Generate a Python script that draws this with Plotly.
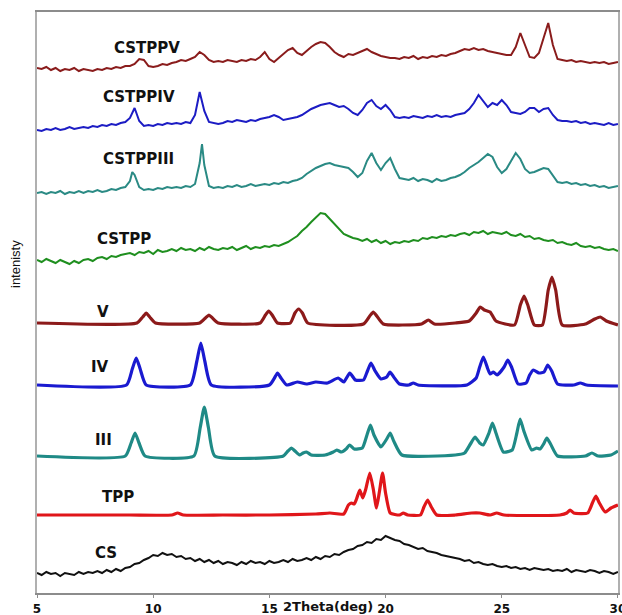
import numpy as np
import plotly.graph_objects as go

# common 2-theta sampling for the noisy (composite / amorphous) scans
theta_grid = np.round(np.arange(5.0, 30.0001, 0.2), 1)

# ---- noisy scans, intensity (a.u., stacked) on theta_grid ----
cs_vals = [
    20, 18, 21, 19, 20, 17, 20, 19, 18, 21,
    19, 21, 20, 22, 20, 23, 21, 24, 22, 25,
    26, 29, 30, 33, 35, 38, 37, 40, 38, 39,
    36, 37, 34, 35, 32, 34, 31, 33, 30, 32,
    29, 31, 30, 28, 31, 29, 32, 30, 31, 29,
    32, 30, 31, 33, 31, 34, 32, 33, 35, 33,
    36, 34, 37, 36, 39, 38, 41, 43, 44, 47,
    48, 51, 50, 54, 53, 57, 55, 53, 52, 49,
    48, 46, 44, 45, 42, 41, 40, 38, 37, 36,
    35, 34, 32, 33, 30, 31, 29, 28, 29, 27,
    26, 27, 25, 26, 24, 25, 23, 25, 24, 23,
    24, 22, 23, 22, 24, 21, 23, 22, 21, 23,
    22, 20, 22, 21, 19, 21,
]
cstpp_vals = [
    333, 331, 334, 332, 330, 333, 331, 329, 332, 330,
    333, 334, 332, 335, 336, 334, 337, 336, 338, 339,
    340, 338, 341, 340, 342, 339, 343, 341, 342, 344,
    342, 345, 343, 344, 342, 345, 343, 346, 344, 343,
    345, 344, 346, 343, 345, 347, 344, 346, 345, 347,
    346, 348, 347, 349, 351, 354, 357, 362, 366, 371,
    376, 380, 379, 374, 368, 364, 359, 357, 355, 354,
    352, 354, 351, 353, 350, 352, 349, 351, 350, 352,
    351, 353, 352, 355, 354, 356, 355, 357, 356, 358,
    357, 359, 360, 358, 361, 360, 362, 359, 361, 360,
    359, 361, 358, 357, 359, 356, 357, 354, 355, 353,
    352, 353, 350, 351, 349, 348, 350, 347, 346, 347,
    345, 346, 344, 343, 344, 342,
]
cstpp3_vals = [
    400, 401, 399, 401, 400, 402, 399, 401, 400, 402,
    400, 402, 401, 403, 401, 402, 404, 403, 405, 406,
    412, 418, 406, 403, 404, 403, 405, 404, 406, 405,
    406, 405, 407, 406, 409, 430, 428, 407, 405, 406,
    405, 407, 406, 408, 406, 407, 409, 407, 408, 409,
    408, 410, 409, 411, 410, 412, 413, 415, 419, 422,
    425, 427, 429, 430, 428, 427, 426, 425, 421, 416,
    420, 432, 440, 430, 423, 430, 435, 424, 415, 414,
    413, 415, 412, 414, 413, 411, 414, 412, 413, 415,
    416, 418, 421, 425, 428, 431, 435, 439, 436, 426,
    420, 424, 432, 440, 434, 424, 420, 421, 423, 425,
    424, 417, 411, 410, 411, 409, 410, 408, 409, 407,
    408, 406, 407, 405, 406, 407,
]
cstpp3_peak_x = [9.1, 12.1]
cstpp3_peak_y = [421, 449]
cstpp4_vals = [
    463, 462, 464, 463, 465, 463, 464, 466, 464, 465,
    466, 465, 467, 466, 468, 467, 469, 468, 470, 471,
    475, 485, 472, 467, 468, 467, 469, 468, 470, 469,
    470, 469, 471, 470, 478, 501, 482, 471, 470, 469,
    470, 472, 471, 473, 472, 471, 473, 472, 474, 475,
    476, 478, 476, 473, 474, 475, 476, 478, 481, 484,
    486, 488, 489, 490, 488, 486, 487, 484, 480, 478,
    483, 490, 493, 487, 484, 488, 483, 476, 475, 476,
    475, 477, 476, 475, 477, 476, 478, 476, 477, 476,
    478, 479, 480, 484, 490, 498, 492, 486, 490, 488,
    493, 488, 481, 480, 479, 481, 485, 485, 481, 484,
    485, 478, 473, 472, 472, 471, 472, 470, 471, 469,
    470, 469, 468, 470, 468, 469,
]
cstpp5_vals = [
    525, 524, 526, 523, 525, 522, 524, 523, 525, 522,
    524, 523, 522, 524, 523, 525, 524, 526, 525, 527,
    527, 529, 534, 533, 527, 526, 527, 529, 528, 530,
    531, 533, 532, 534, 536, 541, 538, 533, 531, 532,
    531, 533, 532, 531, 533, 532, 534, 533, 536, 541,
    534, 531, 535, 539, 543, 545, 540, 538, 542, 546,
    549, 551, 550, 546, 541, 538, 536, 539, 538, 540,
    542, 544, 541, 539, 537, 536, 535, 535, 534, 536,
    535, 537, 534, 536, 535, 537, 536, 538, 537, 539,
    540, 542, 544, 543, 545, 543, 544, 542, 541, 540,
    539, 538, 538, 546, 560, 548, 536, 535, 540, 555,
    570, 548, 534, 533, 532, 533, 531, 532, 531, 530,
    531, 530, 531, 529, 530, 531,
]

# ---- crystalline scans (smooth), explicit theta / intensity ----
tpp_x = [5.0, 7.0, 9.0, 10.8, 11.05, 11.3, 13.0, 15.0, 17.0, 17.6, 18.2, 18.4, 18.53,
         18.65, 18.75, 18.89, 19.02, 19.15, 19.32, 19.47, 19.61, 19.74, 19.87, 20.0,
         20.2, 20.6, 20.76, 20.95, 21.5, 21.65, 21.81, 21.97, 22.2, 23.0, 23.7, 24.05,
         24.5, 24.78, 25.1, 27.5, 27.8, 27.94, 28.1, 28.7, 28.9, 29.05, 29.2, 29.45,
         29.7, 30.0]
tpp_y = [78, 78, 78, 78, 80, 78, 78, 78, 79, 80, 79, 88, 90,
         89, 94, 103, 95, 104, 120, 104, 85, 102, 120, 100,
         80, 78, 80, 78, 78, 86, 93, 86, 78, 78, 80, 80,
         78, 80, 78, 78, 80, 83, 80, 80, 90, 97, 90, 81,
         85, 88]

iii_x = [5.0, 8.8, 9.05, 9.22, 9.39, 9.65, 11.75, 12.02, 12.2, 12.38, 12.65, 15.6, 15.8,
         15.95, 16.1, 16.3, 16.45, 16.6, 16.8, 17.4, 17.75, 17.9, 18.1, 18.3, 18.45,
         18.65, 19.0, 19.2, 19.35, 19.5, 19.8, 20.05, 20.2, 20.35, 20.7, 23.0, 23.4,
         23.65, 23.85, 24.05, 24.2, 24.45, 24.6, 24.75, 25.07, 25.45, 25.65, 25.79,
         25.95, 26.29, 26.5, 26.65, 26.8, 26.94, 27.1, 27.4, 28.6, 28.88, 29.15, 29.7,
         30.0]
iii_y = [137, 137, 150, 160, 150, 137, 137, 165, 186, 165, 137, 137, 142,
         145, 142, 138, 140, 141, 138, 138, 141, 143, 141, 144, 148,
         144, 145, 158, 168, 158, 146, 154, 160, 152, 138, 138, 140,
         149, 156, 150, 148, 160, 170, 160, 141, 143, 160, 174,
         162, 143, 145, 144, 149, 155, 149, 137, 137, 140, 137, 138,
         142]

iv_x = [5.0, 8.85, 9.1, 9.27, 9.44, 9.7, 11.6, 11.88, 12.05, 12.22, 12.5, 15.0, 15.22,
        15.35, 15.5, 15.75, 16.2, 16.6, 17.0, 17.5, 17.96, 18.2, 18.46, 18.7, 19.05,
        19.22, 19.37, 19.55, 19.8, 20.05, 20.19, 20.35, 20.6, 21.0, 21.19, 21.4, 23.5,
        23.9, 24.05, 24.21, 24.4, 24.5, 24.64, 24.8, 25.1, 25.26, 25.42, 25.7, 26.05,
        26.2, 26.36, 26.6, 26.82, 26.98, 27.15, 27.4, 28.1, 28.38, 28.65, 30.0]
iv_y = [208, 208, 224, 235, 224, 208, 208, 232, 250, 232, 208, 208, 215,
        220, 215, 208, 211, 209, 211, 210, 215, 211, 220, 213, 213,
        222, 230, 222, 214, 216, 221, 216, 209, 208, 210, 208, 208,
        215, 226, 236, 224, 219, 221, 218, 226, 233, 226, 209, 210,
        218, 223, 220, 221, 228, 222, 209, 208, 210, 208, 207]

v_x = [5.0, 9.3, 9.55, 9.7, 9.85, 10.1, 12.0, 12.25, 12.4, 12.55, 12.8, 14.6, 14.83,
       14.97, 15.12, 15.35, 15.9, 16.1, 16.26, 16.42, 16.65, 19.05, 19.32, 19.47,
       19.62, 19.9, 21.55, 21.84, 22.1, 23.0, 23.6, 23.9, 24.07, 24.25, 24.5, 24.75,
       25.55, 25.8, 25.96, 26.12, 26.4, 26.75, 27.0, 27.16, 27.32, 27.6, 28.6, 29.0,
       29.24, 29.5, 30.0]
v_y = [270, 270, 276, 280, 276, 270, 270, 275, 278, 275, 270, 270, 278,
       282, 278, 270, 270, 280, 284, 280, 270, 269, 277, 281,
       277, 269, 269, 273, 269, 270, 272, 280, 286, 283, 281, 272,
       268, 288, 297, 288, 268, 268, 303, 316, 303, 268, 269, 274,
       276, 272, 268]

# ---- labels ----
label_text = ["CSTPPV", "CSTPPIV", "CSTPPIII", "CSTPP", "V", "IV", "III", "TPP", "CS"]
label_x = [9.74, 9.4, 9.35, 8.75, 7.85, 7.72, 7.87, 8.47, 7.95]
label_y = [545, 496, 434, 354, 281, 226, 153, 96, 40]

x_ticks = [5, 10, 15, 20, 25, 30]


def merge(xs, ys, ex, ey):
    px = list(xs) + list(ex)
    py = list(ys) + list(ey)
    order = np.argsort(px, kind="stable")
    return [px[i] for i in order], [py[i] for i in order]


fig = go.Figure()

noisy = [
    ("CS", theta_grid, cs_vals, "#111111"),
    ("CSTPP", theta_grid, cstpp_vals, "#1f8f1f"),
]
x3, y3 = merge(theta_grid, cstpp3_vals, cstpp3_peak_x, cstpp3_peak_y)
noisy.append(("CSTPPIII", x3, y3, "#2a8a84"))
noisy.append(("CSTPPIV", theta_grid, cstpp4_vals, "#1c1cc4"))
noisy.append(("CSTPPV", theta_grid, cstpp5_vals, "#8a1c1c"))

for name, xs, ys, col in noisy:
    fig.add_trace(go.Scatter(x=list(xs), y=ys, mode="lines", name=name,
                             line=dict(color=col, width=2)))

crystal = [
    ("TPP", tpp_x, tpp_y, "#e0161a"),
    ("III", iii_x, iii_y, "#1f8a86"),
    ("IV", iv_x, iv_y, "#1a1ad0"),
    ("V", v_x, v_y, "#8c1a1a"),
]
for name, xs, ys, col in crystal:
    fig.add_trace(go.Scatter(x=xs, y=ys, mode="lines", name=name,
                             line=dict(color=col, width=3.2, shape="spline", smoothing=0.5)))

for t, x, y in zip(label_text, label_x, label_y):
    fig.add_annotation(x=x, y=y, text=t, showarrow=False,
                       font=dict(family="DejaVu Sans", size=15, color="#111111", weight="bold"))

# axis titles placed as in the reference
fig.add_annotation(xref="paper", yref="paper", x=(328 - 37) / 581, y=-13 / 581,
                   text="2Theta(deg)", showarrow=False, xanchor="center", yanchor="middle",
                   font=dict(family="DejaVu Sans", size=13, color="#111111", weight="bold"))
fig.add_annotation(xref="paper", yref="paper", x=(15 - 37) / 581, y=(593 - 264) / 581,
                   text="intenisty", showarrow=False, textangle=-90,
                   xanchor="center", yanchor="middle",
                   font=dict(family="Liberation Sans", size=13, color="#111111"))

fig.update_layout(
    width=622, height=615,
    margin=dict(l=37, r=4, t=12, b=22),
    paper_bgcolor="white", plot_bgcolor="white",
    showlegend=False,
    xaxis=dict(range=[5, 30.002], tickvals=x_ticks, ticktext=[str(t) for t in x_ticks],
               showgrid=False, zeroline=False, showline=True, linecolor="#8c8c8c",
               linewidth=1.5, mirror=True, ticks="outside", ticklen=3, tickcolor="#8c8c8c",
               ticklabelstandoff=1, automargin=False, ticklabeloverflow="allow",
               tickfont=dict(family="DejaVu Sans", size=12, color="#111111", weight="bold")),
    yaxis=dict(range=[0, 581], showticklabels=False, showgrid=False, zeroline=False,
               showline=True, linecolor="#b0b0b0", linewidth=1.5, mirror=True, ticks="",
               automargin=False),
)

fig.write_html("out.html")
